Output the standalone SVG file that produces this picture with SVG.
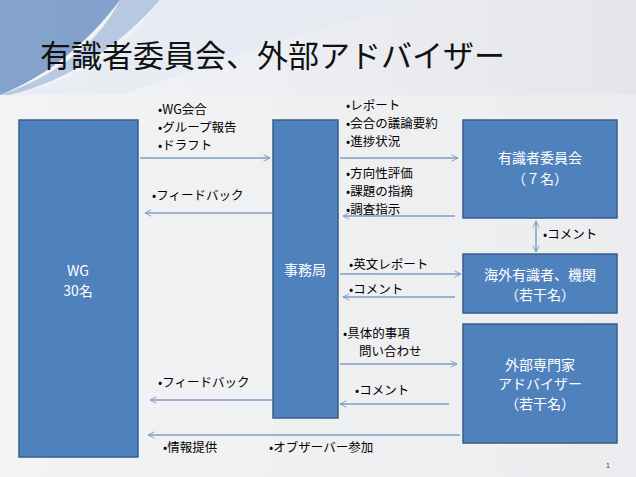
<svg xmlns="http://www.w3.org/2000/svg" width="636" height="477" viewBox="0 0 636 477">
<defs>
<linearGradient id="bg" x1="0" y1="0" x2="1" y2="0"><stop offset="0" stop-color="#f4f5f7"/><stop offset="1" stop-color="#e4e6ea"/></linearGradient>
<marker id="ah" viewBox="0 0 10 10" refX="9" refY="5" markerWidth="8" markerHeight="8" orient="auto-start-reverse" markerUnits="userSpaceOnUse"><path d="M1,1 L9,5 L1,9" fill="none" stroke="#7f9cc4" stroke-width="1.2"/></marker>
<style>
.box{fill:#4f81bd;stroke:#385d8a;stroke-width:1.5}
.bt{fill:#fff;font-family:"Noto Sans CJK JP","Liberation Sans",sans-serif;font-size:14px;text-anchor:middle}
.lb{fill:#000;font-family:"Noto Sans CJK JP","Liberation Sans",sans-serif;font-size:12.5px}
.ar{stroke:#7f9cc4;stroke-width:1.5;fill:none;marker-end:url(#ah)}
</style>
</defs>
<rect width="636" height="477" fill="url(#bg)"/>
<path d="M0,0 L120,0 C90,40 50,75 0,95 Z" fill="#6f93c4" opacity="0.85"/>
<path d="M0,95 C60,75 100,40 120,0 L160,0 C120,45 70,80 10,95 Z" fill="#a9bedc" opacity="0.8"/>
<path d="M10,95 C80,80 130,45 160,0 L430,0 C300,30 200,70 120,95 Z" fill="#e5eaf2" opacity="0.8"/>
<rect x="0" y="95" width="636" height="382" fill="#f2f2f3" opacity="0.6"/>
<text x="40" y="67" font-family="'Noto Sans CJK JP',sans-serif" font-size="31" fill="#111">有識者委員会、外部アドバイザー</text>
<g id="wg"><rect class="box" x="19" y="120" width="119" height="337"/><text class="bt" x="78" y="276">WG</text><text class="bt" x="78" y="296">30名</text></g>
<g id="jimu"><rect class="box" x="273" y="120" width="65" height="298"/><text class="bt" x="305" y="275">事務局</text></g>
<g id="iin"><rect class="box" x="463" y="120" width="154" height="98"/><text class="bt" x="540" y="163">有識者委員会</text><text class="bt" x="540" y="184">（７名）</text></g>
<g id="kaigai"><rect class="box" x="463" y="254" width="154" height="59"/><text class="bt" x="540" y="280">海外有識者、機関</text><text class="bt" x="540" y="300">（若干名）</text></g>
<g id="gaibu"><rect class="box" x="463" y="324" width="154" height="119"/><text class="bt" x="540" y="370">外部専門家</text><text class="bt" x="540" y="389">アドバイザー</text><text class="bt" x="540" y="409">（若干名）</text></g>
<g id="connectors">
<line class="ar" x1="140" y1="158" x2="270" y2="158"/>
<line class="ar" x1="272" y1="213" x2="145" y2="213"/>
<line class="ar" x1="340" y1="158" x2="458" y2="158"/>
<line class="ar" x1="455" y1="216" x2="343" y2="216"/>
<line class="ar" x1="536" y1="221" x2="536" y2="252" marker-start="url(#ah)"/>
<line class="ar" x1="340" y1="274" x2="461" y2="274"/>
<line class="ar" x1="455" y1="297" x2="343" y2="297"/>
<line class="ar" x1="340" y1="364" x2="457" y2="364"/>
<line class="ar" x1="449" y1="404" x2="340" y2="404"/>
<line class="ar" x1="272" y1="400" x2="150" y2="400"/>
<line class="ar" x1="460" y1="435" x2="148" y2="435"/>
</g>
<g id="labels">
<text class="lb" x="158" y="114">•WG会合</text>
<text class="lb" x="158" y="132">•グループ報告</text>
<text class="lb" x="158" y="150">•ドラフト</text>
<text class="lb" x="152" y="200">•フィードバック</text>
<text class="lb" x="346" y="110">•レポート</text>
<text class="lb" x="346" y="128">•会合の議論要約</text>
<text class="lb" x="346" y="146">•進捗状況</text>
<text class="lb" x="346" y="178">•方向性評価</text>
<text class="lb" x="346" y="196">•課題の指摘</text>
<text class="lb" x="346" y="214">•調査指示</text>
<text class="lb" x="543" y="239">•コメント</text>
<text class="lb" x="349" y="269">•英文レポート</text>
<text class="lb" x="349" y="294">•コメント</text>
<text class="lb" x="343" y="338">•具体的事項</text>
<text class="lb" x="359" y="356">問い合わせ</text>
<text class="lb" x="355" y="395">•コメント</text>
<text class="lb" x="158" y="387">•フィードバック</text>
<text class="lb" x="163" y="452">•情報提供</text>
<text class="lb" x="269" y="452">•オブザーバー参加</text>
<text x="606" y="468" font-family="'Liberation Sans',sans-serif" font-size="7" fill="#333">1</text>
</g>
</svg>
